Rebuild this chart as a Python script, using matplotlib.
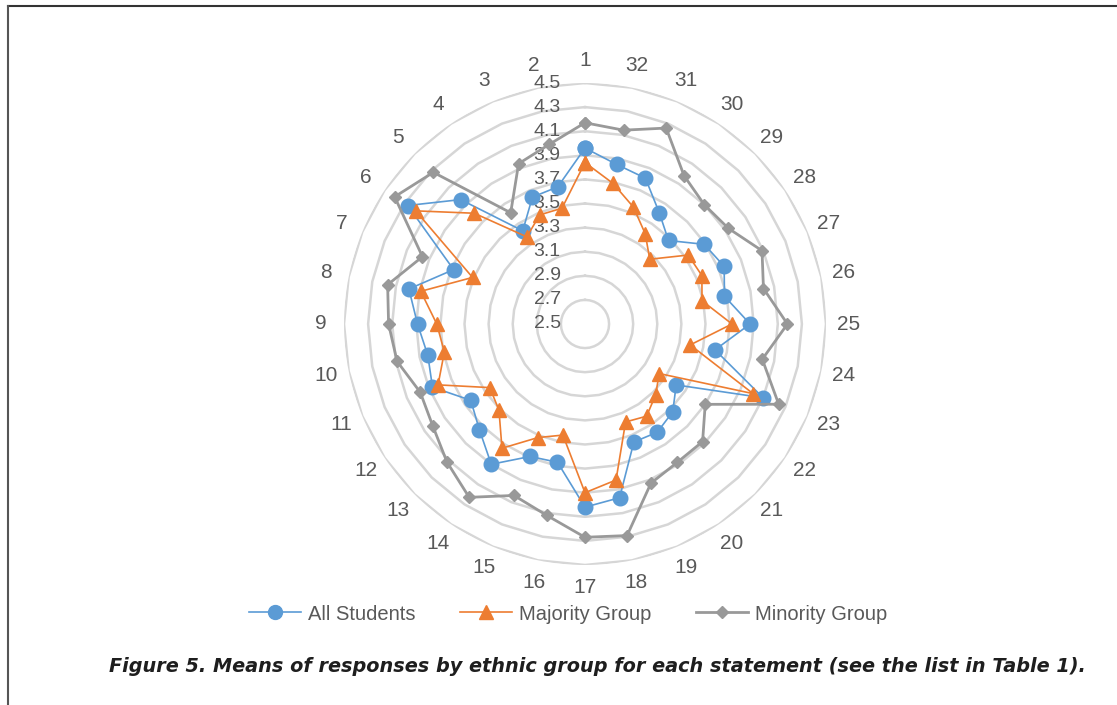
import matplotlib
matplotlib.use('Agg')
import matplotlib.pyplot as plt
from matplotlib.lines import Line2D
import numpy as np

# statement numbers 1..32 (radar runs counter-clockwise from the top)
statements = [str(i) for i in range(1, 33)]

all_students = [3.96, 3.66, 3.64, 3.43, 3.96, 4.27, 3.68, 3.99, 3.89, 3.83, 3.87, 3.64,
                3.74, 3.90, 3.69, 3.67, 4.02, 3.97, 3.56, 3.58, 3.53, 3.41, 4.10, 3.60,
                3.87, 3.68, 3.75, 3.69, 3.48, 3.61, 3.81, 3.85]
majority = [3.84, 3.48, 3.48, 3.37, 3.80, 4.19, 3.51, 3.89, 3.73, 3.69, 3.82, 3.45,
            3.51, 3.74, 3.52, 3.44, 3.90, 3.82, 3.38, 3.42, 3.33, 3.24, 4.01, 3.39,
            3.72, 3.49, 3.55, 3.53, 3.26, 3.40, 3.55, 3.69]
minority = [4.17, 4.02, 3.94, 3.61, 4.28, 4.40, 3.96, 4.17, 4.13, 4.09, 3.98, 4.02,
            4.12, 4.23, 4.04, 4.12, 4.27, 4.29, 3.93, 3.88, 3.88, 3.70, 4.24, 4.00,
            4.18, 4.01, 4.09, 3.93, 3.90, 3.98, 4.26, 4.14]

r_ticks = [2.5, 2.7, 2.9, 3.1, 3.3, 3.5, 3.7, 3.9, 4.1, 4.3, 4.5]

BLUE = "#5B9BD5"
ORANGE = "#ED7D31"
GRAY = "#999999"
TXT = "#595959"
CHART_FONT = ["Liberation Sans", "DejaVu Sans"]

fig = plt.figure(figsize=(11.17, 7.05), dpi=100)

# centre of the radar at (585, 324) px, outer ring radius ~241 px
cx, cy, rad = 585 / 1117, 1 - 324 / 705, 241
ax = fig.add_axes([cx - rad / 1117, cy - rad / 705, 2 * rad / 1117, 2 * rad / 705],
                  projection="polar")
ax.set_theta_zero_location("N")
ax.set_theta_direction(1)
ax.set_ylim(2.5, 4.5)
ax.grid(False)
ax.set_xticks([])
ax.set_yticks([])
ax.spines["polar"].set_visible(False)
ax.patch.set_alpha(0)

theta = 2 * np.pi * np.arange(len(statements)) / len(statements)
closed = np.append(theta, theta[0])

# polygon gridlines
for lvl in r_ticks[1:]:
    ax.plot(closed, [lvl] * len(closed), color="#D6D6D6", lw=1.8, zorder=0)

# radial tick labels left of the top spoke
for lvl in r_ticks:
    ax.annotate(f"{lvl:.1f}", xy=(0, lvl), xytext=(-17.5, 0), textcoords="offset points",
                ha="right", va="center", fontsize=14, color=TXT, family=CHART_FONT, zorder=1)

# category labels
for t, lab in zip(theta, statements):
    ax.text(t, 4.69, lab, ha="center", va="center", fontsize=15, color=TXT,
            family=CHART_FONT, clip_on=False)


def close(v):
    return list(v) + [v[0]]


ax.plot(closed, close(all_students), color=BLUE, lw=1.2, marker="o", markersize=10.5,
        zorder=3, clip_on=False)
ax.plot(closed, close(majority), color=ORANGE, lw=1.2, marker="^", markersize=10.5,
        zorder=4, clip_on=False)
ax.plot(closed, close(minority), color=GRAY, lw=2.0, marker="D", markersize=6.5,
        zorder=5, clip_on=False)

handles = [
    Line2D([0], [0], color=BLUE, lw=1.2, marker="o", markersize=10, label="All Students"),
    Line2D([0], [0], color=ORANGE, lw=1.2, marker="^", markersize=10, label="Majority Group"),
    Line2D([0], [0], color=GRAY, lw=2.0, marker="D", markersize=6.5, label="Minority Group"),
]
leg = fig.legend(handles=handles, loc="center", bbox_to_anchor=(568 / 1117, 1 - 614 / 705),
                 ncol=3, frameon=False, prop={"family": CHART_FONT, "size": 14.5},
                 handlelength=2.6, columnspacing=2.2, handletextpad=0.35)
for t in leg.get_texts():
    t.set_color(TXT)

fig.text(597 / 1117, 1 - 667 / 705,
         "Figure 5. Means of responses by ethnic group for each statement (see the list in Table 1).",
         ha="center", va="center", fontsize=13.9, fontweight="bold", fontstyle="italic",
         color="#1E1E1E")

# page frame (top and left edges)
fig.add_artist(Line2D([8 / 1117, 1], [1 - 6 / 705, 1 - 6 / 705], color="#333333", lw=1.5))
fig.add_artist(Line2D([8 / 1117, 8 / 1117], [0, 1 - 6 / 705], color="#555555", lw=1.5))

fig.savefig("out.png", dpi=100)
